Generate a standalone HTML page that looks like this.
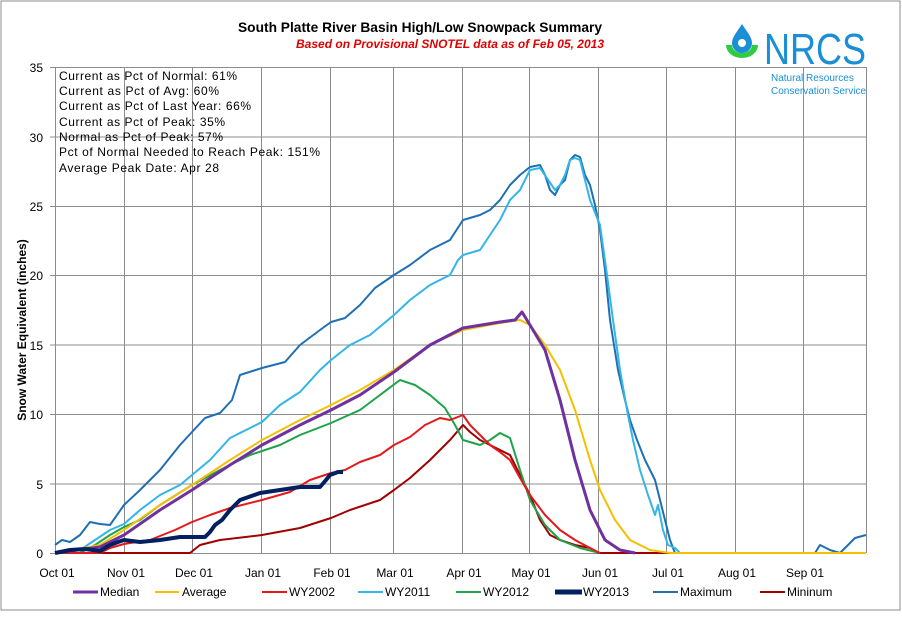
<!DOCTYPE html>
<html><head><meta charset="utf-8"><style>
body{margin:0;background:#fff}
svg text{font-family:"Liberation Sans",Arial,sans-serif}
</style></head><body>
<svg width="902" height="613" viewBox="0 0 902 613" xmlns="http://www.w3.org/2000/svg">
<rect x="1" y="1" width="899" height="609" fill="#fff" stroke="#8c8c8c" stroke-width="1"/>
<g stroke="#8c8c8c" stroke-width="1" fill="none">
<line x1="55" y1="67.5" x2="866" y2="67.5"/><line x1="55" y1="137" x2="866" y2="137"/>
<line x1="55" y1="206.5" x2="866" y2="206.5"/><line x1="55" y1="275.5" x2="866" y2="275.5"/>
<line x1="55" y1="345" x2="866" y2="345"/><line x1="55" y1="414.5" x2="866" y2="414.5"/>
<line x1="55" y1="484" x2="866" y2="484"/><line x1="55" y1="553.5" x2="866" y2="553.5"/>
<line x1="55.5" y1="67" x2="55.5" y2="553"/><line x1="124.5" y1="67" x2="124.5" y2="553"/>
<line x1="192.5" y1="67" x2="192.5" y2="553"/><line x1="261.5" y1="67" x2="261.5" y2="553"/>
<line x1="330.5" y1="67" x2="330.5" y2="553"/><line x1="393.5" y1="67" x2="393.5" y2="553"/>
<line x1="462.5" y1="67" x2="462.5" y2="553"/><line x1="529.5" y1="67" x2="529.5" y2="553"/>
<line x1="598.5" y1="67" x2="598.5" y2="553"/><line x1="666.5" y1="67" x2="666.5" y2="553"/>
<line x1="735.5" y1="67" x2="735.5" y2="553"/><line x1="803.5" y1="67" x2="803.5" y2="553"/>
<line x1="866.5" y1="67" x2="866.5" y2="553"/>
<line x1="50" y1="67.5" x2="55" y2="67.5"/><line x1="50" y1="137" x2="55" y2="137"/><line x1="50" y1="206.5" x2="55" y2="206.5"/><line x1="50" y1="275.5" x2="55" y2="275.5"/><line x1="50" y1="345" x2="55" y2="345"/><line x1="50" y1="414.5" x2="55" y2="414.5"/><line x1="50" y1="484" x2="55" y2="484"/><line x1="50" y1="553.5" x2="55" y2="553.5"/>
</g>
<g font-size="12" fill="#000" text-anchor="end">
<text x="43" y="72">35</text><text x="43" y="142">30</text><text x="43" y="211">25</text><text x="43" y="280">20</text><text x="43" y="350">15</text><text x="43" y="419">10</text><text x="43" y="489">5</text><text x="43" y="558">0</text>
</g>
<g font-size="12" fill="#000" text-anchor="middle">
<text x="57" y="577">Oct 01</text><text x="126" y="577">Nov 01</text><text x="194" y="577">Dec 01</text><text x="263" y="577">Jan 01</text><text x="332" y="577">Feb 01</text><text x="395" y="577">Mar 01</text><text x="464" y="577">Apr 01</text><text x="531" y="577">May 01</text><text x="600" y="577">Jun 01</text><text x="668" y="577">Jul 01</text><text x="737" y="577">Aug 01</text><text x="805" y="577">Sep 01</text>
</g>
<text transform="translate(26,330) rotate(-90)" font-size="12" font-weight="bold" text-anchor="middle">Snow Water Equivalent (inches)</text>
<text x="238" y="32" font-size="14" font-weight="bold" textLength="364" lengthAdjust="spacingAndGlyphs">South Platte River Basin High/Low Snowpack Summary</text>
<text x="296" y="48" font-size="12" font-weight="bold" font-style="italic" fill="#e00000" textLength="308" lengthAdjust="spacingAndGlyphs">Based on Provisional SNOTEL data as of Feb 05, 2013</text>
<g font-size="12" fill="#000" lengthAdjust="spacingAndGlyphs">
<text x="59" y="80" textLength="178">Current  as Pct of Normal: 61%</text>
<text x="59" y="95" textLength="160">Current  as Pct of Avg: 60%</text>
<text x="59" y="110" textLength="192">Current  as Pct of Last Year: 66%</text>
<text x="59" y="126" textLength="166">Current  as Pct of Peak: 35%</text>
<text x="59" y="141" textLength="164">Normal as Pct of Peak: 57%</text>
<text x="59" y="156" textLength="261">Pct of Normal Needed to Reach Peak: 151%</text>
<text x="59" y="172" textLength="160">Average Peak Date: Apr 28</text>
</g>
<!-- logo -->
<path d="M742 24 C737 32 732 37 732 43 A10 10 0 0 0 752 43 C752 37 747 32 742 24Z" fill="#1a8fd6"/>
<circle cx="742" cy="43" r="4" fill="#fff"/>
<path d="M726 45 A16 13 0 0 0 758 45 L752 45 A10 8 0 0 1 732 45Z" fill="#2ecc40"/>
<text x="764" y="64" font-size="44" fill="#1a8fd6" textLength="102" lengthAdjust="spacingAndGlyphs">NRCS</text>
<text x="771" y="81" font-size="10" fill="#1a8fd6">Natural Resources</text>
<text x="771" y="94" font-size="10" fill="#1a8fd6">Conservation Service</text>
<g fill="none" stroke-linejoin="round">
<polyline stroke="#a00000" stroke-width="2" points="55,553 190,553 200,545 220,540 262,535 300,528 331,518 350,510 380,500 394,490 410,478 430,460 450,440 463,425 470,432 480,440 500,450 510,455 520,475 530,495 540,520 550,535 560,540 575,545 590,548 598,553 866,553"/>
<polyline stroke="#1f6fb4" stroke-width="2" points="55,545 62,540 70,542 80,535 90,522 100,524 110,525 124,505 140,490 160,470 180,445 192,432 205,418 220,413 232,400 240,375 262,368 285,362 300,345 320,330 331,322 345,318 360,305 375,288 394,275 410,265 430,250 450,240 463,220 480,215 490,210 500,200 510,185 520,175 530,167 540,165 545,175 550,190 555,195 560,185 565,180 570,160 575,155 580,157 585,175 590,185 595,205 600,230 605,270 610,320 618,370 625,400 630,420 637,440 645,460 655,480 660,500 665,520 670,540 675,553 815,553 820,545 830,550 840,553 848,545 855,538 866,535"/>
<polyline stroke="#33b5e8" stroke-width="2" points="55,553 80,550 95,540 110,530 124,524 140,510 160,495 180,485 192,475 210,460 230,438 250,428 262,422 280,405 300,392 320,370 331,360 350,345 370,335 394,315 410,300 430,285 450,275 458,260 463,255 480,250 490,235 500,220 510,200 520,190 530,170 540,168 555,190 560,185 565,175 570,160 575,158 580,160 585,180 590,200 600,225 607,275 613,320 620,370 627,410 633,440 640,470 648,495 655,515 658,505 663,530 668,545 675,548 680,553 866,553"/>
<polyline stroke="#1ea34a" stroke-width="2" points="55,553 80,553 95,545 110,535 124,527 140,520 160,505 192,485 220,470 250,455 280,445 300,435 331,423 360,410 380,395 400,380 415,385 430,395 445,408 455,425 463,440 480,445 490,440 500,433 510,438 520,470 530,500 545,525 560,540 580,548 600,553"/>
<polyline stroke="#e31a1c" stroke-width="2" points="55,553 100,553 110,548 124,544 150,540 175,530 192,522 210,515 230,508 262,500 290,492 310,480 331,473 345,470 360,462 380,455 394,445 410,437 425,425 440,418 450,420 463,415 470,425 480,435 490,445 500,452 510,460 520,478 530,495 545,515 560,530 575,540 590,548 600,553"/>
<polyline stroke="#f5c000" stroke-width="2" points="55,553 100,545 124,530 160,505 192,485 230,460 262,440 300,420 331,405 360,390 394,370 430,345 463,330 500,323 520,320 530,325 545,345 560,370 575,410 590,460 600,490 615,520 630,540 650,550 670,553 866,553"/>
<polyline stroke="#7030a0" stroke-width="3" points="55,553 100,547 124,535 160,510 192,490 230,465 262,445 300,425 331,410 360,395 394,372 430,345 463,328 500,322 515,320 522,312 530,325 545,350 560,400 575,460 590,510 605,540 620,550 635,553"/>
<polyline stroke="#002060" stroke-width="4" points="55,553 70,550 85,549 100,551 110,545 118,542 124,540 140,542 160,540 180,537 192,537 205,537 210,532 215,525 222,520 230,510 240,500 260,493 280,490 300,487 320,487 326,480 330,475 338,472 343,472"/>
</g>
<g font-size="12" fill="#000">
<line x1="73" y1="592" x2="98" y2="592" stroke="#7030a0" stroke-width="3"/><text x="100" y="596">Median</text>
<line x1="155" y1="592" x2="179" y2="592" stroke="#f5c000" stroke-width="2"/><text x="182" y="596">Average</text>
<line x1="262" y1="592" x2="287" y2="592" stroke="#e31a1c" stroke-width="2"/><text x="289" y="596">WY2002</text>
<line x1="358" y1="592" x2="383" y2="592" stroke="#33b5e8" stroke-width="2"/><text x="385" y="596">WY2011</text>
<line x1="456" y1="592" x2="481" y2="592" stroke="#1ea34a" stroke-width="2"/><text x="483" y="596">WY2012</text>
<line x1="555" y1="592" x2="582" y2="592" stroke="#002060" stroke-width="5"/><text x="583" y="596">WY2013</text>
<line x1="653" y1="592" x2="678" y2="592" stroke="#1f6fb4" stroke-width="2"/><text x="680" y="596">Maximum</text>
<line x1="760" y1="592" x2="785" y2="592" stroke="#a00000" stroke-width="2"/><text x="787" y="596">Mininum</text>
</g>
</svg>
</body></html>
